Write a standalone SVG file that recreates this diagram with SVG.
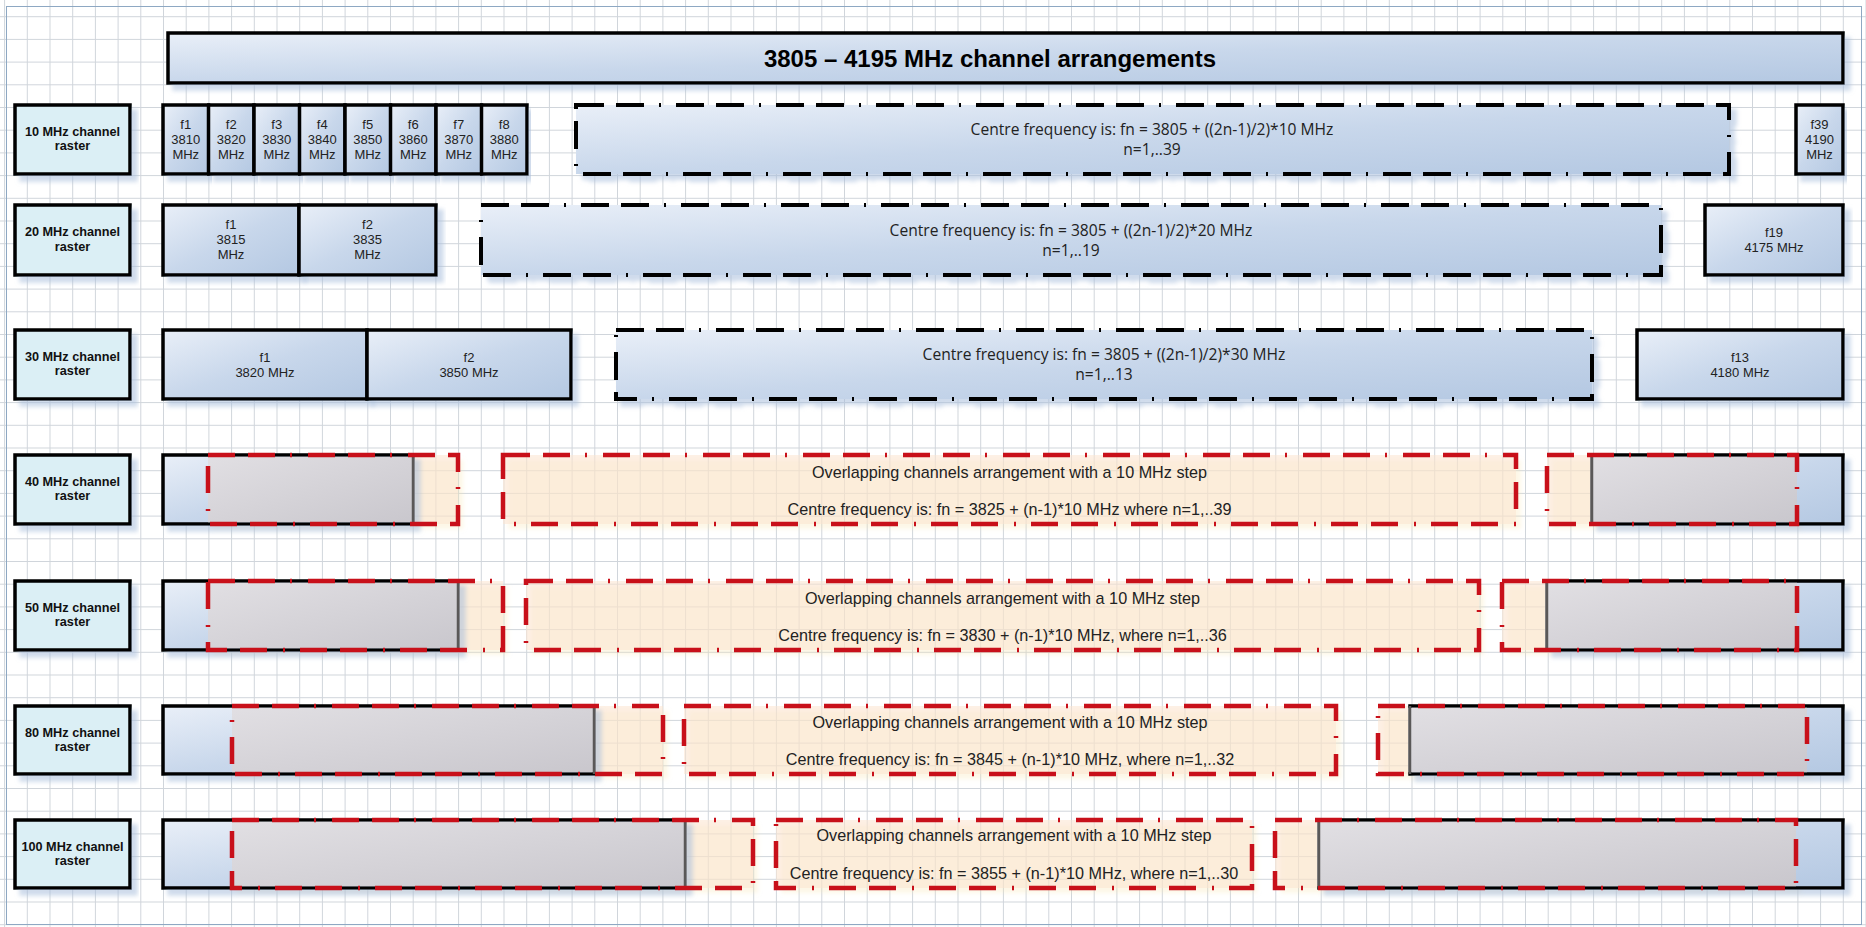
<svg xmlns="http://www.w3.org/2000/svg" width="1866" height="927" viewBox="0 0 1866 927">
  <defs>
    <style>
      .lbl { fill: #dbeff5; stroke: #000; stroke-width: 3.5; filter: url(#sh); }
      .box { fill: url(#blue); stroke: #000; stroke-width: 3.5; filter: url(#sh); }
      .dash { fill: url(#blue); stroke: #000; stroke-width: 4; stroke-dasharray: 28 12 28 15 2 15; filter: url(#sh); }
      .peach { fill: #fbe3cf; fill-opacity: 0.55; filter: url(#shy); }
      .gray { fill: url(#grayg); }
      .gedge { stroke: #5a5858; stroke-width: 2.5; }
      .red { fill: none; stroke: #c8101a; stroke-width: 4.5; stroke-dasharray: 27 13 27 15 2 16; }
      text { font-family: "Liberation Sans", Arial, sans-serif; text-anchor: middle; }
      .title { font-size: 24px; font-weight: bold; fill: #000; }
      .lt { font-size: 12.7px; font-weight: bold; fill: #111; }
      .ct { font-size: 13px; fill: #222; }
      .ft { font-family: "Open Sans", "Liberation Sans", sans-serif; font-size: 15.6px; fill: #222; }
      .ot { font-size: 16.2px; fill: #222; }
    </style>
    <pattern id="grid" x="26.8" y="16.2" width="22.7" height="22.7" patternUnits="userSpaceOnUse">
      <path d="M0.5 0V22.7M0 0.5H22.7" fill="none" stroke="#d0d5db" stroke-width="1"/>
    </pattern>
    <linearGradient id="blue" x1="0" y1="0" x2="1" y2="1">
      <stop offset="0" stop-color="#e9eff8"/>
      <stop offset="0.5" stop-color="#c8d7eb"/>
      <stop offset="1" stop-color="#b4c8e2"/>
    </linearGradient>
    <linearGradient id="grayg" x1="0" y1="0" x2="1" y2="1">
      <stop offset="0" stop-color="#e1dfe3"/>
      <stop offset="1" stop-color="#c9c7cd"/>
    </linearGradient>
    <filter id="sh" x="-3%" y="-20%" width="110%" height="150%">
      <feDropShadow dx="6" dy="6" stdDeviation="2" flood-color="#a9bedc" flood-opacity="0.55"/>
    </filter>
    <filter id="shy" x="-3%" y="-20%" width="110%" height="150%">
      <feDropShadow dx="5" dy="5" stdDeviation="2" flood-color="#f6e3a6" flood-opacity="0.5"/>
    </filter>
  </defs>

  <!-- drawing page -->
  <rect x="0" y="0" width="1866" height="927" fill="#fff"/>
  <rect x="0" y="0" width="1866" height="927" fill="url(#grid)"/>
  <rect x="6.5" y="6.5" width="1855" height="918" fill="none" stroke="#8ea8c3" stroke-width="1"/>

  <!-- title -->
  <g id="title">
    <rect class="box" x="168" y="33" width="1675" height="50"/>
    <text class="title" x="990" y="66.5">3805 – 4195 MHz channel arrangements</text>
  </g>

  <!-- row labels -->
  <g id="label-10">
    <rect class="lbl" x="15" y="105" width="115" height="69"/>
    <text class="lt" x="72.5" y="135.5">10 MHz channel</text>
    <text class="lt" x="72.5" y="150">raster</text>
  </g>
  <g id="label-20">
    <rect class="lbl" x="15" y="205" width="115" height="70"/>
    <text class="lt" x="72.5" y="236">20 MHz channel</text>
    <text class="lt" x="72.5" y="250.5">raster</text>
  </g>
  <g id="label-30">
    <rect class="lbl" x="15" y="330" width="115" height="69"/>
    <text class="lt" x="72.5" y="360.5">30 MHz channel</text>
    <text class="lt" x="72.5" y="375">raster</text>
  </g>
  <g id="label-40">
    <rect class="lbl" x="15" y="455" width="115" height="69"/>
    <text class="lt" x="72.5" y="485.5">40 MHz channel</text>
    <text class="lt" x="72.5" y="500">raster</text>
  </g>
  <g id="label-50">
    <rect class="lbl" x="15" y="581" width="115" height="69"/>
    <text class="lt" x="72.5" y="611.5">50 MHz channel</text>
    <text class="lt" x="72.5" y="626">raster</text>
  </g>
  <g id="label-80">
    <rect class="lbl" x="15" y="706" width="115" height="68"/>
    <text class="lt" x="72.5" y="736.5">80 MHz channel</text>
    <text class="lt" x="72.5" y="751">raster</text>
  </g>
  <g id="label-100">
    <rect class="lbl" x="15" y="820" width="115" height="68"/>
    <text class="lt" x="72.5" y="850.5">100 MHz channel</text>
    <text class="lt" x="72.5" y="865">raster</text>
  </g>

  <!-- 10 MHz raster -->
  <g id="r10-f1"><rect class="box" x="163" y="105" width="45.5" height="69"/>
    <text class="ct" x="185.75" y="128.7">f1</text><text class="ct" x="185.75" y="143.7">3810</text><text class="ct" x="185.75" y="158.7">MHz</text></g>
  <g id="r10-f2"><rect class="box" x="208.5" y="105" width="45.5" height="69"/>
    <text class="ct" x="231.25" y="128.7">f2</text><text class="ct" x="231.25" y="143.7">3820</text><text class="ct" x="231.25" y="158.7">MHz</text></g>
  <g id="r10-f3"><rect class="box" x="254" y="105" width="45.5" height="69"/>
    <text class="ct" x="276.75" y="128.7">f3</text><text class="ct" x="276.75" y="143.7">3830</text><text class="ct" x="276.75" y="158.7">MHz</text></g>
  <g id="r10-f4"><rect class="box" x="299.5" y="105" width="45.5" height="69"/>
    <text class="ct" x="322.25" y="128.7">f4</text><text class="ct" x="322.25" y="143.7">3840</text><text class="ct" x="322.25" y="158.7">MHz</text></g>
  <g id="r10-f5"><rect class="box" x="345" y="105" width="45.5" height="69"/>
    <text class="ct" x="367.75" y="128.7">f5</text><text class="ct" x="367.75" y="143.7">3850</text><text class="ct" x="367.75" y="158.7">MHz</text></g>
  <g id="r10-f6"><rect class="box" x="390.5" y="105" width="45.5" height="69"/>
    <text class="ct" x="413.25" y="128.7">f6</text><text class="ct" x="413.25" y="143.7">3860</text><text class="ct" x="413.25" y="158.7">MHz</text></g>
  <g id="r10-f7"><rect class="box" x="436" y="105" width="45.5" height="69"/>
    <text class="ct" x="458.75" y="128.7">f7</text><text class="ct" x="458.75" y="143.7">3870</text><text class="ct" x="458.75" y="158.7">MHz</text></g>
  <g id="r10-f8"><rect class="box" x="481.5" y="105" width="45.5" height="69"/>
    <text class="ct" x="504.25" y="128.7">f8</text><text class="ct" x="504.25" y="143.7">3880</text><text class="ct" x="504.25" y="158.7">MHz</text></g>
  <g id="r10-formula"><rect class="dash" x="576" y="105" width="1153" height="69"/>
    <text class="ft" x="1152" y="135">Centre frequency is: fn = 3805 + ((2n-1)/2)*10 MHz</text>
    <text class="ft" x="1152" y="155">n=1,..39</text></g>
  <g id="r10-f39"><rect class="box" x="1796" y="105" width="47" height="69"/>
    <text class="ct" x="1819.5" y="128.7">f39</text><text class="ct" x="1819.5" y="143.7">4190</text><text class="ct" x="1819.5" y="158.7">MHz</text></g>

  <!-- 20 MHz raster -->
  <g id="r20-f1"><rect class="box" x="163" y="205" width="136" height="70"/>
    <text class="ct" x="231" y="228.7">f1</text><text class="ct" x="231" y="243.7">3815</text><text class="ct" x="231" y="258.7">MHz</text></g>
  <g id="r20-f2"><rect class="box" x="299" y="205" width="137" height="70"/>
    <text class="ct" x="367.5" y="228.7">f2</text><text class="ct" x="367.5" y="243.7">3835</text><text class="ct" x="367.5" y="258.7">MHz</text></g>
  <g id="r20-formula"><rect class="dash" x="481" y="205" width="1180" height="70"/>
    <text class="ft" x="1071" y="235.5">Centre frequency is: fn = 3805 + ((2n-1)/2)*20 MHz</text>
    <text class="ft" x="1071" y="255.5">n=1,..19</text></g>
  <g id="r20-f19"><rect class="box" x="1705" y="205" width="138" height="70"/>
    <text class="ct" x="1774" y="236.7">f19</text><text class="ct" x="1774" y="251.7">4175 MHz</text></g>

  <!-- 30 MHz raster -->
  <g id="r30-f1"><rect class="box" x="163" y="330" width="204" height="69"/>
    <text class="ct" x="265" y="361.7">f1</text><text class="ct" x="265" y="376.7">3820 MHz</text></g>
  <g id="r30-f2"><rect class="box" x="367" y="330" width="204" height="69"/>
    <text class="ct" x="469" y="361.7">f2</text><text class="ct" x="469" y="376.7">3850 MHz</text></g>
  <g id="r30-formula"><rect class="dash" x="616" y="330" width="976" height="69"/>
    <text class="ft" x="1104" y="360">Centre frequency is: fn = 3805 + ((2n-1)/2)*30 MHz</text>
    <text class="ft" x="1104" y="380">n=1,..13</text></g>
  <g id="r30-f13"><rect class="box" x="1637" y="330" width="206" height="69"/>
    <text class="ct" x="1740" y="361.7">f13</text><text class="ct" x="1740" y="376.7">4180 MHz</text></g>

  <!-- 40 MHz raster -->
  <g id="r40-first">
    <rect class="peach" x="208" y="455" width="250" height="69"/>
    <rect class="box" x="163" y="455" width="250" height="69"/>
    <rect class="gray" x="208" y="456.75" width="206.5" height="65.5"/>
    <line class="gedge" x1="413" y1="455" x2="413" y2="524"/>
    <rect class="red" x="208" y="455" width="250" height="69"/>
  </g>
  <g id="r40-formula">
    <rect class="peach" x="503" y="455" width="1013" height="69"/>
    <rect class="red" x="503" y="455" width="1013" height="69"/>
    <text class="ot" x="1009.5" y="477.5">Overlapping channels arrangement with a 10 MHz step</text>
    <text class="ot" x="1009.5" y="514.5">Centre frequency is: fn = 3825 + (n-1)*10 MHz where n=1,..39</text>
  </g>
  <g id="r40-last">
    <rect class="peach" x="1547" y="455" width="250" height="69"/>
    <rect class="box" x="1592" y="455" width="251" height="69"/>
    <rect class="gray" x="1590.5" y="456.75" width="206.5" height="65.5"/>
    <line class="gedge" x1="1592" y1="455" x2="1592" y2="524"/>
    <rect class="red" x="1547" y="455" width="250" height="69"/>
  </g>

  <!-- 50 MHz raster -->
  <g id="r50-first">
    <rect class="peach" x="208" y="581" width="295" height="69"/>
    <rect class="box" x="163" y="581" width="295" height="69"/>
    <rect class="gray" x="208" y="582.75" width="251.5" height="65.5"/>
    <line class="gedge" x1="458" y1="581" x2="458" y2="650"/>
    <rect class="red" x="208" y="581" width="295" height="69"/>
  </g>
  <g id="r50-formula">
    <rect class="peach" x="526" y="581" width="953" height="69"/>
    <rect class="red" x="526" y="581" width="953" height="69"/>
    <text class="ot" x="1002.5" y="603.5">Overlapping channels arrangement with a 10 MHz step</text>
    <text class="ot" x="1002.5" y="640.5">Centre frequency is: fn = 3830 + (n-1)*10 MHz, where n=1,..36</text>
  </g>
  <g id="r50-last">
    <rect class="peach" x="1502" y="581" width="295" height="69"/>
    <rect class="box" x="1547" y="581" width="296" height="69"/>
    <rect class="gray" x="1545.5" y="582.75" width="251.5" height="65.5"/>
    <line class="gedge" x1="1547" y1="581" x2="1547" y2="650"/>
    <rect class="red" x="1502" y="581" width="295" height="69"/>
  </g>

  <!-- 80 MHz raster -->
  <g id="r80-first">
    <rect class="peach" x="232" y="706" width="431" height="68"/>
    <rect class="box" x="163" y="706" width="431" height="68"/>
    <rect class="gray" x="232" y="707.75" width="363.5" height="64.5"/>
    <line class="gedge" x1="594" y1="706" x2="594" y2="774"/>
    <rect class="red" x="232" y="706" width="431" height="68"/>
  </g>
  <g id="r80-formula">
    <rect class="peach" x="684" y="706" width="652" height="68"/>
    <rect class="red" x="684" y="706" width="652" height="68"/>
    <text class="ot" x="1010" y="728">Overlapping channels arrangement with a 10 MHz step</text>
    <text class="ot" x="1010" y="765">Centre frequency is: fn = 3845 + (n-1)*10 MHz, where n=1,..32</text>
  </g>
  <g id="r80-last">
    <rect class="peach" x="1378" y="706" width="429" height="68"/>
    <rect class="box" x="1410" y="706" width="433" height="68"/>
    <rect class="gray" x="1408.5" y="707.75" width="398.5" height="64.5"/>
    <line class="gedge" x1="1410" y1="706" x2="1410" y2="774"/>
    <rect class="red" x="1378" y="706" width="429" height="68"/>
  </g>

  <!-- 100 MHz raster -->
  <g id="r100-first">
    <rect class="peach" x="232" y="820" width="521" height="68"/>
    <rect class="box" x="163" y="820" width="522" height="68"/>
    <rect class="gray" x="232" y="821.75" width="454.5" height="64.5"/>
    <line class="gedge" x1="685" y1="820" x2="685" y2="888"/>
    <rect class="red" x="232" y="820" width="521" height="68"/>
  </g>
  <g id="r100-formula">
    <rect class="peach" x="776" y="820" width="476" height="68"/>
    <rect class="red" x="776" y="820" width="476" height="68"/>
    <text class="ot" x="1014" y="841">Overlapping channels arrangement with a 10 MHz step</text>
    <text class="ot" x="1014" y="879">Centre frequency is: fn = 3855 + (n-1)*10 MHz, where n=1,..30</text>
  </g>
  <g id="r100-last">
    <rect class="peach" x="1275" y="820" width="521" height="68"/>
    <rect class="box" x="1319" y="820" width="524" height="68"/>
    <rect class="gray" x="1317.5" y="821.75" width="478.5" height="64.5"/>
    <line class="gedge" x1="1319" y1="820" x2="1319" y2="888"/>
    <rect class="red" x="1275" y="820" width="521" height="68"/>
  </g>

  <g id="connectors"/>
</svg>
